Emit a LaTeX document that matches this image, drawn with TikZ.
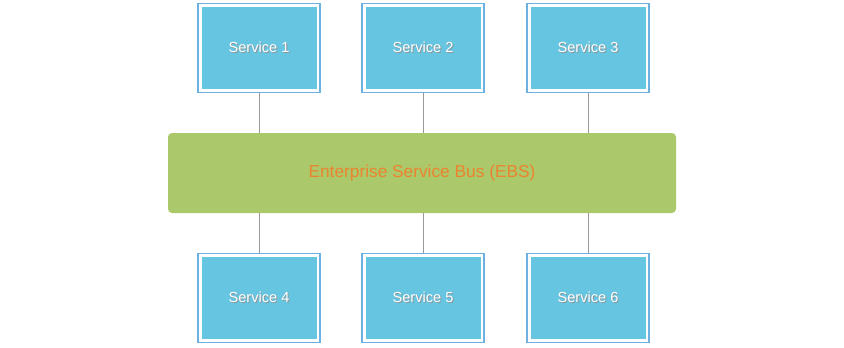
\documentclass[tikz,border=0pt]{standalone}
\usepackage{fontspec}
\setmainfont{Liberation Sans}
\definecolor{svcfill}{HTML}{66C5E0}
\definecolor{svcborder}{HTML}{6DB0E2}
\definecolor{busfill}{HTML}{ABC96A}
\definecolor{bustext}{HTML}{EC8330}
\definecolor{linkgray}{HTML}{9A9A9A}
\definecolor{shadowgray}{HTML}{8C979C}
\newcommand\shadowedtext[1]{\makebox[0pt][l]{\hspace{1pt}\raisebox{-1pt}{\textcolor{shadowgray}{#1}}}\textcolor{white}{#1}}
\tikzset{
  svc/.style={fill=svcfill, draw=none, minimum width=115pt, minimum height=82pt, inner sep=0pt, outer sep=0pt, font=\fontsize{14.6pt}{16pt}\selectfont},
  svcframe/.style={draw=svcborder, line width=1.5pt},
  bus/.style={fill=busfill, draw=none, rounded corners=4pt, minimum width=508pt, minimum height=80pt, inner sep=0pt, text=bustext, font=\fontsize{17.3pt}{20pt}\selectfont},
  link/.style={draw=linkgray, line width=1pt}
}
\begin{document}
\begin{tikzpicture}[x=1pt,y=-1pt]
\useasboundingbox (0,0) rectangle (844,348);
\node[bus] (bus) at (422,173) {Enterprise Service Bus (EBS)};
\foreach \n/\x/\y in {1/259/48,2/423/48,3/588/48,4/259/298,5/423/298,6/588/298}{
  \node[svc] (s\n) at (\x,\y) {\shadowedtext{Service \n}};
  \draw[svcframe] ([shift={(-3.5,-3.5)}]s\n.north west) rectangle ([shift={(3.5,3.5)}]s\n.south east);
}
\foreach \n in {1,2,3}{ \draw[link] ([yshift=-4.2pt]s\n.south) -- (bus.north -| s\n.south); }
\foreach \n in {4,5,6}{ \draw[link] ([yshift=4.2pt]s\n.north) -- (bus.south -| s\n.north); }
\end{tikzpicture}
\end{document}
